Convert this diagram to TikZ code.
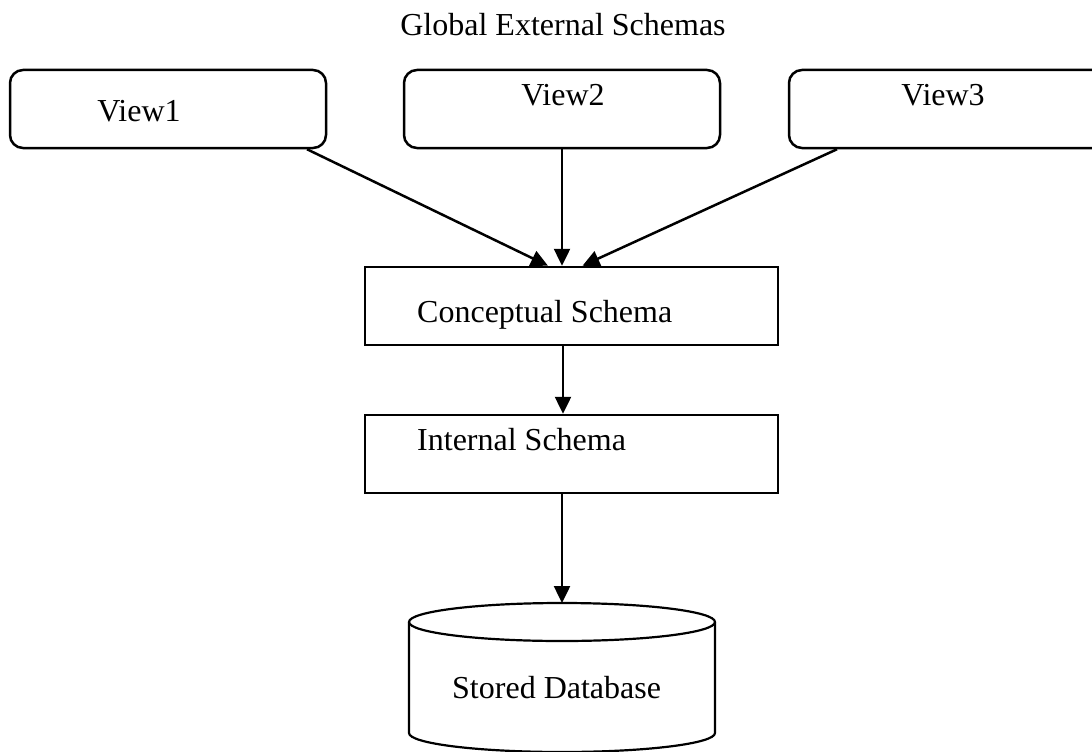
\documentclass[tikz,border=0pt]{standalone}
\usepackage{fontspec}
\setmainfont{Liberation Serif}
\usetikzlibrary{arrows.meta}
\begin{document}
\begin{tikzpicture}[x=1pt,y=-1pt,
  every node/.style={font=\fontsize{32}{38}\selectfont},
  viewbox/.style={draw,line width=2.5pt,rounded corners=13pt,inner sep=0pt,minimum height=78pt},
  schemabox/.style={draw,line width=2.5pt,inner sep=0pt,minimum width=413pt,minimum height=78pt},
  lbl/.style={inner sep=0pt},
  arr/.style={line width=2.5pt,-{Triangle[length=17pt,width=16pt]}}]
\useasboundingbox (0,0) rectangle (1092,752);
\clip (0,0) rectangle (1092,752);
% title
\node[lbl,anchor=base] (title) at (563,36) {Global External Schemas};
% views
\node[viewbox,minimum width=316pt] (v1) at (168,109) {};
\node[viewbox,minimum width=316pt] (v2) at (562,109) {};
\node[viewbox,minimum width=330pt] (v3) at (954,109) {};
\node[lbl,anchor=base] (t1) at (139,121) {View1};
\node[lbl,anchor=base] (t2) at (563,105) {View2};
\node[lbl,anchor=base] (t3) at (943,105) {View3};
% schema boxes
\node[schemabox] (cs) at (571.5,306) {};
\node[schemabox] (is) at (571.5,454) {};
\node[lbl,anchor=base west] (tcs) at (417,322) {Conceptual Schema};
\node[lbl,anchor=base west] (tis) at (417,450) {Internal Schema};
% stored database cylinder
\draw[line width=2.2pt] (562,622) ellipse [x radius=153pt,y radius=19pt];
\draw[line width=2.2pt] (409,622) -- (409,733)
  arc[start angle=180,end angle=360,x radius=153pt,y radius=19pt] -- (715,622);
\coordinate (db) at (562,603);
\node[lbl,anchor=base west] (tdb) at (452,698) {Stored Database};
% connectors
\draw[arr] ([xshift=139pt]v1.south) -- ([xshift=-23.5pt]cs.north);
\draw[arr] (v2.south) -- (v2.south |- cs.north);
\draw[arr] ([xshift=-117pt]v3.south) -- ([xshift=11pt]cs.north);
\draw[arr] ([xshift=-8.5pt]cs.south) -- ([xshift=-8.5pt]is.north);
\draw[arr] ([xshift=-9.5pt]is.south) -- (db);
\end{tikzpicture}
\end{document}
